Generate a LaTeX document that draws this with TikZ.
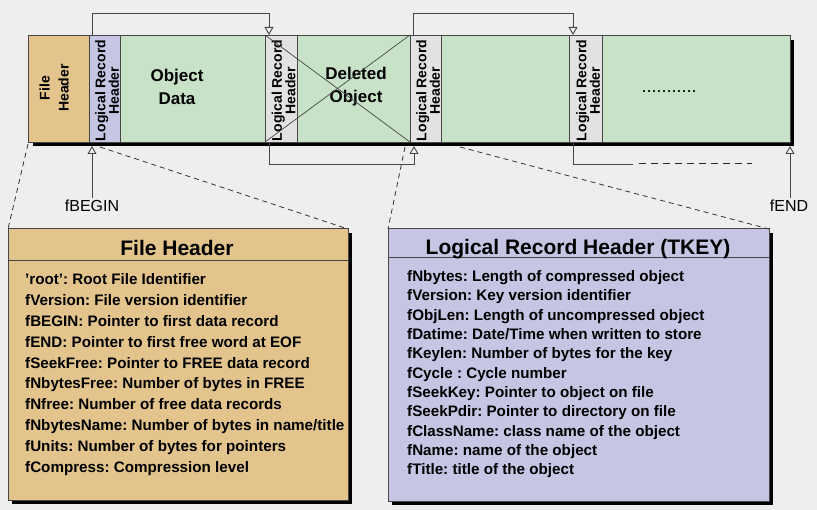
\documentclass[tikz,border=0pt]{standalone}
\usepackage{fontspec}
\setmainfont{Liberation Sans}
\usetikzlibrary{arrows.meta}
\definecolor{bg}{RGB}{238,238,238}
\definecolor{tanc}{RGB}{226,196,140}
\definecolor{lav}{RGB}{198,198,228}
\definecolor{grn}{RGB}{200,226,200}
\definecolor{lgray}{RGB}{226,226,226}
\definecolor{edge}{RGB}{70,70,70}
\frenchspacing
\begin{document}
\begin{tikzpicture}[x=1pt,y=-1pt,
  seg/.style={draw=edge, line width=0.8pt, minimum height=107pt, inner sep=0pt, outer sep=0pt, anchor=north west},
  ptr/.style={draw=edge, line width=0.9pt, -{Triangle[open,length=8pt,width=9pt]}},
  plain/.style={draw=edge, line width=0.9pt},
  zoomline/.style={draw=black!80, dash pattern=on 5pt off 4pt, line width=0.8pt},
  vtext/.style={rotate=90, font=\bfseries\fontsize{14}{13.5}\selectfont, align=center, inner sep=0pt},
  bigtext/.style={font=\bfseries\fontsize{17}{23}\selectfont, align=center, inner sep=0pt},
  panel/.style={draw=edge, line width=1pt, anchor=north west, inner sep=0pt, outer sep=0pt},
  ptitle/.style={anchor=base, font=\bfseries\fontsize{21}{21}\selectfont, inner sep=0pt},
  item/.style={anchor=base west, font=\bfseries\fontsize{15.2}{15.2}\selectfont, inner sep=0pt},
  lbl/.style={font=\fontsize{16}{16}\selectfont, inner sep=0pt},
]
\useasboundingbox (0,0) rectangle (817,510);
\fill[bg] (0,0) rectangle (817,510);
% strip shadow
\fill[black] (33,40) rectangle (794,146);
% strip segments
\node[seg, fill=tanc, minimum width=61pt] (fh) at (28,35) {};
\node[seg, fill=lav, minimum width=31pt] (lr1) at (89,35) {};
\node[seg, fill=grn, minimum width=145pt] (od) at (120,35) {};
\node[seg, fill=lgray, minimum width=32pt] (lr2) at (265,35) {};
\node[seg, fill=grn, minimum width=113pt] (del) at (297,35) {};
\node[seg, fill=lgray, minimum width=31pt] (lr3) at (410,35) {};
\node[seg, fill=grn, minimum width=128pt] (g3) at (441,35) {};
\node[seg, fill=lgray, minimum width=33pt] (lr4) at (569,35) {};
\node[seg, fill=grn, minimum width=188pt] (g4) at (602,35) {};
% texts in the strip
\node[vtext, font=\bfseries\fontsize{14}{19}\selectfont] (fht) at (54,88) {File\\Header};
\foreach \c in {lr1,lr2,lr3,lr4}{
  \begin{scope}
    \clip (\c.north west) rectangle (\c.south east);
    \node[vtext] (\c t) at ([xshift=2.5pt,yshift=-2pt]\c.center) {Logical Record\\Header};
  \end{scope}
}
\node[bigtext] (odt) at (177,87) {Object\\Data};
\node[bigtext] (delt) at (356,87) {Deleted\\Object};
\node[font=\fontsize{18}{18}\selectfont, inner sep=0pt, anchor=base] (dots) at (669,93) {...........};
% cross over deleted object
\draw[edge, line width=0.7pt] (lr2.north west) -- (del.south east);
\draw[edge, line width=0.7pt] (lr2.south west) -- (del.north east);
% pointers on top
\draw[ptr] ([xshift=3pt]lr1.north west) -- ++(0,-22) -| ([xshift=4pt]lr2.north west);
\draw[ptr] ([xshift=3pt]lr3.north west) -- ++(0,-22) -| ([xshift=4pt]lr4.north west);
% pointers below
\draw[ptr] ([xshift=4pt]lr2.south west) -- ++(0,22) -| ([xshift=4pt,yshift=-4pt]lr3.south west);
\coordinate (dstart) at (633,164);
\coordinate (dend) at (752,164);
\draw[plain] ([xshift=4pt]lr4.south west) |- (dstart);
\draw[black!85, line width=1pt, dash pattern=on 7pt off 5pt] ([xshift=6pt]dstart) -- (dend);
% fBEGIN / fEND
\node[lbl] (fbegin) at (92,206) {fBEGIN};
\node[lbl] (fend) at (789,206) {fEND};
\draw[ptr] ([yshift=2pt]fbegin.north -| lr1.west) ++(3,0) -- ([xshift=3pt,yshift=-4pt]lr1.south west);
\draw[ptr] ([yshift=2pt]fend.north -| g4.east) -- ([yshift=-4pt]g4.south east);
% panels
\fill[black] (12,233) rectangle (352,504);
\node[panel, fill=tanc, minimum width=340pt, minimum height=271pt] (fhbox) at (8,229) {};
\draw[edge, line width=1pt] (8,261) -- (348,261);
\node[ptitle] (fhtitle) at (177,256) {File Header};
\foreach \t [count=\i from 0] in {'root': Root File Identifier,
  fVersion: File version identifier,
  fBEGIN: Pointer to first data record,
  fEND: Pointer to first free word at EOF,
  fSeekFree: Pointer to FREE data record,
  fNbytesFree: Number of bytes in FREE,
  fNfree: Number of free data records,
  fNbytesName: Number of bytes in name/title,
  fUnits: Number of bytes for pointers,
  fCompress: Compression level}
  \node[item] (fhl\i) at (25,285+\i*20.8) {\t};
\fill[black] (392,233) rectangle (773,505);
\node[panel, fill=lav, minimum width=381pt, minimum height=272pt] (lrbox) at (388,229) {};
\draw[edge, line width=1pt] (388,258) -- (769,258);
\node[ptitle] (lrtitle) at (578,255) {Logical Record Header (TKEY)};
\foreach \t [count=\i from 0] in {fNbytes: Length of compressed object,
  fVersion: Key version identifier,
  fObjLen: Length of uncompressed object,
  fDatime: Date/Time when written to store,
  fKeylen: Number of bytes for the key,
  fCycle : Cycle number,
  fSeekKey: Pointer to object on file,
  fSeekPdir: Pointer to directory on file,
  fClassName: class name of the object,
  fName: name of the object,
  fTitle: title of the object}
  \node[item] (lrl\i) at (407,281.7+\i*19.3) {\t};
% zoom lines
\draw[zoomline] ([yshift=-2pt]fh.south west) -- (fhbox.north west);
\draw[zoomline] ([xshift=11pt,yshift=-5pt]lr1.south west) -- (fhbox.north east);
\draw[zoomline] ([xshift=-5pt,yshift=-5pt]lr3.south west) -- (lrbox.north west);
\draw[zoomline] ([xshift=19pt,yshift=-5pt]lr3.south east) -- (lrbox.north east);
\end{tikzpicture}
\end{document}
